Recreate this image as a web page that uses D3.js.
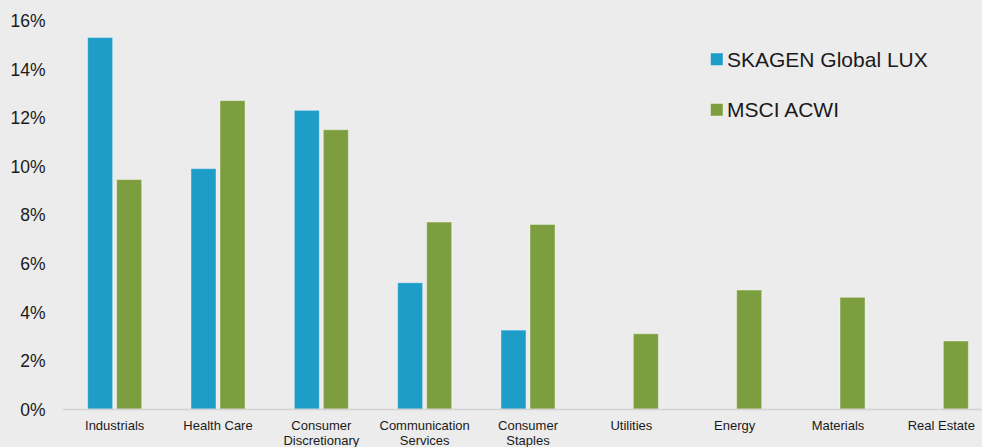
<!DOCTYPE html>
<html>
<head>
<meta charset="utf-8">
<script src="https://cdn.jsdelivr.net/npm/d3@7/dist/d3.min.js"></script>
<style>
  html, body { margin: 0; padding: 0; background: #ececec; }
  svg { display: block; }
  text { font-family: "Liberation Sans", Arial, sans-serif; fill: #1a1a1a; }
</style>
</head>
<body>
<svg id="chart" width="982" height="447"></svg>
<script>
const categories = [
  ["Industrials"], ["Health Care"], ["Consumer", "Discretionary"],
  ["Communication", "Services"], ["Consumer", "Staples"],
  ["Utilities"], ["Energy"], ["Materials"], ["Real Estate"]
];
const seriesNames = ["SKAGEN Global LUX", "MSCI ACWI"];
const skagen = [15.3, 9.9, 12.3, 5.2, 3.25, 0, 0, 0, 0];
const msci = [9.45, 12.7, 11.5, 7.7, 7.6, 3.1, 4.9, 4.6, 2.8];
const yTicks = [0, 2, 4, 6, 8, 10, 12, 14, 16];
const colors = ["#1f9dc9", "#7d9e3e"];

const svg = d3.select("#chart");
svg.append("rect").attr("width", 982).attr("height", 447).attr("fill", "#ececec");

const keys = categories.map(c => c.join(" "));
const x0 = d3.scaleBand().domain(keys).range([63, 993]).paddingInner(0.477).paddingOuter(0.2385);
const x1 = d3.scaleBand().domain(seriesNames).range([0, x0.bandwidth()]).paddingInner(0.138).paddingOuter(0);
const y = d3.scaleLinear().domain([0, 16]).range([409, 20.5]);

// y tick labels
const yAxis = d3.axisLeft(y).tickValues(yTicks).tickFormat(d => d + "%").tickSize(0).tickPadding(0);
const yg = svg.append("g").attr("transform", "translate(45.5,0)").call(yAxis);
yg.select(".domain").remove();
yg.selectAll("text").style("font-size", "17.5px").attr("fill", "#1a1a1a").attr("dy", "0.35em").attr("x", 0);

// bars
const data = keys.map((k, i) => ({ key: k, values: [skagen[i], msci[i]] }));
const groups = svg.append("g").selectAll("g").data(data).join("g")
  .attr("transform", d => `translate(${x0(d.key)},0)`);
groups.selectAll("rect").data(d => d.values.map((v, j) => ({ v, s: seriesNames[j], j })).filter(e => e.v > 0))
  .join("rect")
  .attr("x", e => x1(e.s))
  .attr("width", x1.bandwidth())
  .attr("y", e => y(e.v))
  .attr("height", e => y(0) - y(e.v))
  .attr("fill", e => colors[e.j])
  .attr("stroke", "rgba(255,255,255,0.4)")
  .attr("stroke-width", 1);

// x axis line
svg.append("line").attr("x1", 63).attr("x2", 982).attr("y1", 409.5).attr("y2", 409.5)
  .attr("stroke", "#d3d3d3").attr("stroke-width", 1.5);

// category labels
const xg = svg.append("g");
categories.forEach((lines, i) => {
  const cx = x0(keys[i]) + x0.bandwidth() / 2;
  const t = xg.append("text").attr("text-anchor", "middle").attr("x", cx).attr("y", 429.5)
    .style("font-size", "13px");
  lines.forEach((ln, li) => {
    t.append("tspan").attr("x", cx).attr("dy", li === 0 ? 0 : 15.5).text(ln);
  });
});

// legend
const legend = svg.append("g");
seriesNames.forEach((name, i) => {
  const ly = 59.5 + i * 50.5;
  legend.append("rect").attr("x", 710.5).attr("y", ly - 6.5).attr("width", 12.5).attr("height", 12.5)
    .attr("fill", colors[i]).attr("stroke", "rgba(255,255,255,0.4)").attr("stroke-width", 1);
  legend.append("text").attr("x", 727).attr("y", ly).attr("dy", "0.35em")
    .style("font-size", "21px").text(name);
});
</script>
</body>
</html>
